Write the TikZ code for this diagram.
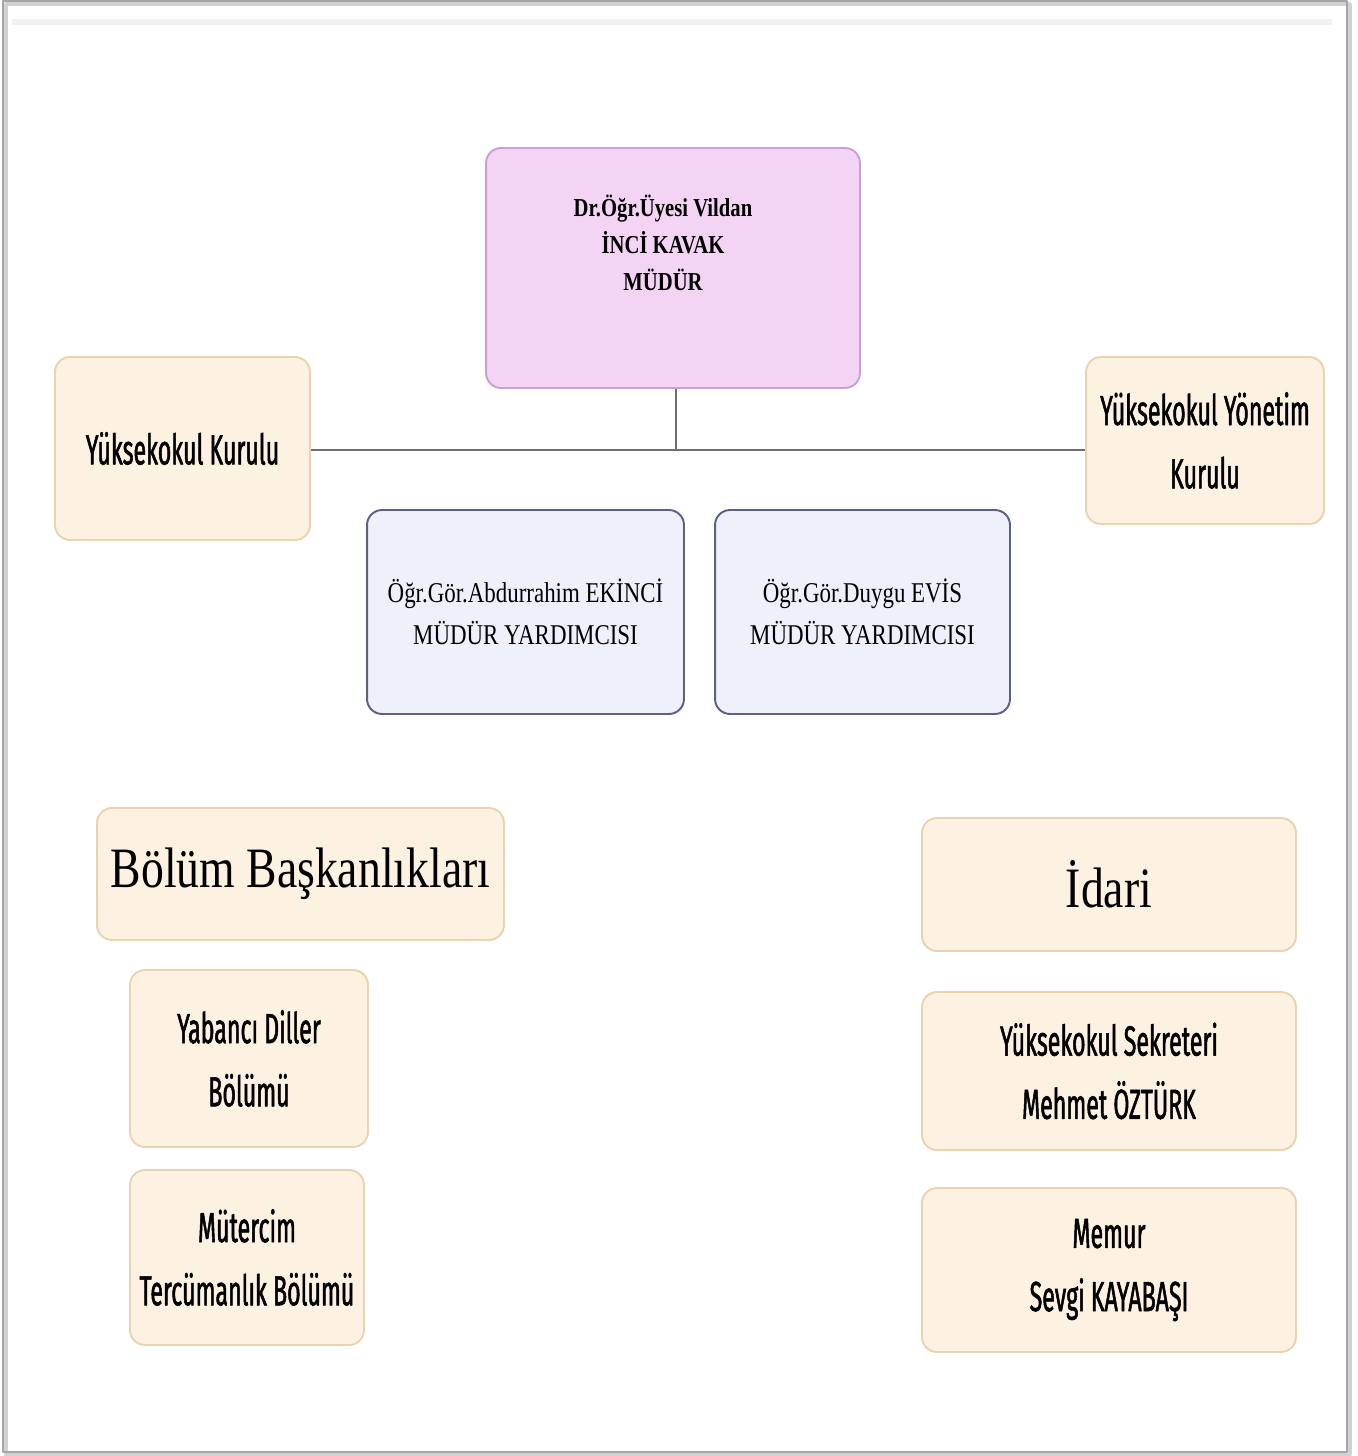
\documentclass[tikz,border=0pt]{standalone}
\usepackage{fontspec}
\setmainfont{Liberation Serif}
\newfontfamily\serifc[FakeStretch=0.8]{Liberation Serif}
\newfontfamily\sansc[FakeStretch=0.55,FakeBold=1.2]{Fira Sans}
\definecolor{pinkfill}{HTML}{F4D4F4}
\definecolor{pinkline}{HTML}{C9A0D6}
\definecolor{creamfill}{HTML}{FDF1E1}
\definecolor{creamline}{HTML}{EAD3AF}
\definecolor{bluefill}{HTML}{EEF0FC}
\definecolor{blueline}{HTML}{5C6183}
\definecolor{linkgray}{HTML}{6E6E6E}
\begin{document}
\begin{tikzpicture}[x=0.02cm,y=-0.02cm,line join=round,
	box/.style={draw,rounded corners=0.3cm,line width=1.1pt,align=center,inner sep=0pt},
	pinkbox/.style={box,draw=pinkline,fill=pinkfill},
	creambox/.style={box,draw=creamline,fill=creamfill,font=\sansc\fontsize{24}{36}\selectfont},
	bluebox/.style={box,draw=blueline,fill=bluefill,font=\serifc\fontsize{16.3}{24}\selectfont,minimum height=4.08cm},
	bigbox/.style={box,draw=creamline,fill=creamfill,font=\serifc\fontsize{32.5}{40}\selectfont}]
		\useasboundingbox (0,0) rectangle (1357,1456);
		\fill[white] (0,0) rectangle (1357,1456);
		\draw[gray!35,line width=2pt] (6,4) rectangle (1350,1455);
		\draw[gray!70,line width=1pt] (3,1) rectangle (1347,1452);
		\draw[gray!12,line width=3pt] (12,22)--(1332,22);
		\node[pinkbox,minimum width=7.48cm,minimum height=4.8cm] (mudur) at (673,268) {};
		\node[font=\serifc\bfseries\fontsize{14.7}{21}\selectfont,align=center] (mudurtxt) at (663,243) {Dr.Öğr.Üyesi Vildan\\İNCİ KAVAK\\MÜDÜR};
		\node[creambox,minimum width=5.1cm,minimum height=3.66cm] (kurul) at (182.5,448.5) {Yüksekokul Kurulu};
		\node[creambox,minimum width=4.76cm,minimum height=3.34cm] (yonetim) at (1205,440.5) {Yüksekokul Yönetim\\Kurulu};
		\coordinate (hub) at (676,450);
		\draw[linkgray,line width=1.2pt] (mudur.south -| hub)--(hub);
		\draw[linkgray,line width=1.2pt] (kurul.east |- hub)--(yonetim.west |- hub);
		\node[bluebox,minimum width=6.34cm] (yard1) at (525.5,612) {Öğr.Gör.Abdurrahim EKİNCİ\\MÜDÜR YARDIMCISI};
		\node[bluebox,minimum width=5.9cm] (yard2) at (862.5,612) {Öğr.Gör.Duygu EVİS\\MÜDÜR YARDIMCISI};
		\node[bigbox,minimum width=8.14cm,minimum height=2.64cm] (bolum) at (300.5,874) {Bölüm Başkanlıkları};
		\node[creambox,minimum width=4.76cm,minimum height=3.54cm] (yabanci) at (249,1058.5) {Yabancı Diller\\Bölümü};
		\node[creambox,minimum width=4.68cm,minimum height=3.5cm] (mutercim) at (247,1257.5) {Mütercim\\Tercümanlık Bölümü};
		\node[bigbox,minimum width=7.48cm,minimum height=2.66cm] (idari) at (1109,884.5) {İdari};
		\node[creambox,minimum width=7.48cm,minimum height=3.16cm] (sekreter) at (1109,1071) {Yüksekokul Sekreteri\\Mehmet ÖZTÜRK};
		\node[creambox,minimum width=7.48cm,minimum height=3.28cm] (memur) at (1109,1270) {Memur\\Sevgi KAYABAŞI};
\end{tikzpicture}
\end{document}
